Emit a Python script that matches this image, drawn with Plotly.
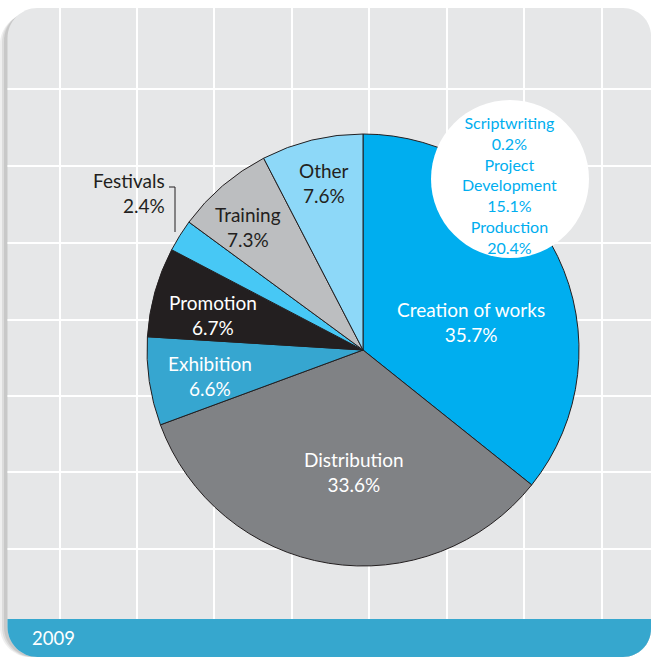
import plotly.graph_objects as go

# ---- data ----
categories = ["Creation of works", "Distribution", "Exhibition", "Promotion",
              "Festivals", "Training", "Other"]
shares = [35.7, 33.6, 6.6, 6.7, 2.4, 7.3, 7.6]
sub_categories = ["Scriptwriting", "Project Development", "Production"]
sub_shares = [0.2, 15.1, 20.4]
year_label = "2009"

# ---- styling ----
W, H = 652, 657
colors = ["#00AEEF", "#808285", "#36A6D0", "#231F20", "#47C8F5", "#BCBEC0", "#8DD8F8"]
text_colors = ["white", "white", "white", "white", "#231F20", "#231F20", "#231F20"]
FONT = "Lato"
DARK = "#231F20"

def px(x):
    return x / W

def py(y):
    return 1 - y / H

# pie geometry (pixels)
cx, cy, r = 363, 350, 216

fig = go.Figure(go.Pie(
    labels=categories, values=shares, sort=False, direction="clockwise",
    rotation=0, textinfo="none", hoverinfo="label+percent",
    marker=dict(colors=colors, line=dict(color=DARK, width=1)),
    domain=dict(x=[px(cx - r), px(cx + r)], y=[py(cy + r), py(cy - r)]),
    showlegend=False,
))

shapes = []

def rounded_path(x0, y0, x1, y1, rtl, rtr, rbr, rbl):
    k = 0.45
    p = f"M {px(x0 + rtl)},{py(y0)} L {px(x1 - rtr)},{py(y0)} "
    p += f"C {px(x1 - rtr*k)},{py(y0)} {px(x1)},{py(y0 + rtr*k)} {px(x1)},{py(y0 + rtr)} "
    p += f"L {px(x1)},{py(y1 - rbr)} "
    p += f"C {px(x1)},{py(y1 - rbr*k)} {px(x1 - rbr*k)},{py(y1)} {px(x1 - rbr)},{py(y1)} "
    p += f"L {px(x0 + rbl)},{py(y1)} "
    p += f"C {px(x0 + rbl*k)},{py(y1)} {px(x0)},{py(y1 - rbl*k)} {px(x0)},{py(y1 - rbl)} "
    p += f"L {px(x0)},{py(y0 + rtl)} "
    p += f"C {px(x0)},{py(y0 + rtl*k)} {px(x0 + rtl*k)},{py(y0)} {px(x0 + rtl)},{py(y0)} Z"
    return p

PX0, PY0, PX1, PY1 = 7.5, 8, 651, 657

# soft shadow on the left
for off, op in [(7.5, 0.16), (5.5, 0.22), (3.5, 0.3)]:
    shapes.append(dict(type="path", xref="paper", yref="paper", layer="below",
                       path=rounded_path(PX0 - off, PY0 + off * 0.8, PX1, PY1, 30, 28, 28, 30),
                       fillcolor="#9A9B9D", opacity=op, line=dict(width=0)))

# panel
shapes.append(dict(type="path", xref="paper", yref="paper", layer="below",
                   path=rounded_path(PX0, PY0, PX1, PY1, 30, 28, 28, 30),
                   fillcolor="#E6E7E8", line=dict(width=0)))

# grid lines
for gx in [60, 137, 214, 292, 369, 447, 524, 602]:
    shapes.append(dict(type="line", xref="paper", yref="paper", layer="below",
                       x0=px(gx), x1=px(gx), y0=py(PY0), y1=py(619),
                       line=dict(color="white", width=2)))
for gy in [89, 166, 243, 320, 396, 472, 549]:
    shapes.append(dict(type="line", xref="paper", yref="paper", layer="below",
                       x0=px(PX0), x1=px(PX1), y0=py(gy), y1=py(gy),
                       line=dict(color="white", width=2)))

# bottom blue bar
shapes.append(dict(type="path", xref="paper", yref="paper", layer="below",
                   path=rounded_path(PX0, 619, PX1, PY1, 0, 0, 28, 30),
                   fillcolor="#36A7CE", line=dict(width=0)))

# white circle (top right)
ccx, ccy, cr = 510, 179, 79
shapes.append(dict(type="circle", xref="paper", yref="paper", layer="above",
                   x0=px(ccx - cr), x1=px(ccx + cr), y0=py(ccy + cr), y1=py(ccy - cr),
                   fillcolor="white", line=dict(width=0)))

# festivals bracket
shapes.append(dict(type="path", xref="paper", yref="paper", layer="above",
                   path=f"M {px(169)},{py(187)} L {px(175)},{py(187)} L {px(175)},{py(232)}",
                   line=dict(color=DARK, width=1)))

annotations = []

def add_text(text, x, y, color, size, xanchor="center", align="center"):
    annotations.append(dict(text=text, x=px(x), y=py(y), xref="paper", yref="paper",
                            showarrow=False, xanchor=xanchor, yanchor="middle",
                            align=align, borderpad=0,
                            font=dict(family=FONT, size=size, color=color)))

# main slice labels: (x, block center y)
label_pos = {
    "Creation of works": (471, 322),
    "Distribution": (354, 472),
    "Exhibition": (210, 376),
    "Promotion": (213, 315),
    "Festivals": (166, 193),
    "Training": (248, 227),
    "Other": (324, 183),
}
for cat, val, tc in zip(categories, shares, text_colors):
    x, yc = label_pos[cat]
    if cat == "Festivals":
        add_text(f"{cat}<br>{val}%", x, yc, tc, 19, "right", "right")
    else:
        add_text(f"{cat}<br>{val}%", x, yc, tc, 19)

# circle sub-labels
lines = []
for name, val in zip(sub_categories, sub_shares):
    lines.extend(name.split(" "))
    lines.append(f"{val}%")
add_text("<br>".join(lines), 509, 185, "#00AEEF", 16)

# year
add_text(year_label, 31, 638, "white", 18.5, "left", "left")

fig.update_layout(
    width=W, height=H, margin=dict(l=0, r=0, t=0, b=0),
    paper_bgcolor="white", plot_bgcolor="white",
    shapes=shapes, annotations=annotations,
)

fig.write_html("out.html", config={"displayModeBar": False},
               post_script="document.body.style.margin='0';document.body.style.overflow='hidden';")
